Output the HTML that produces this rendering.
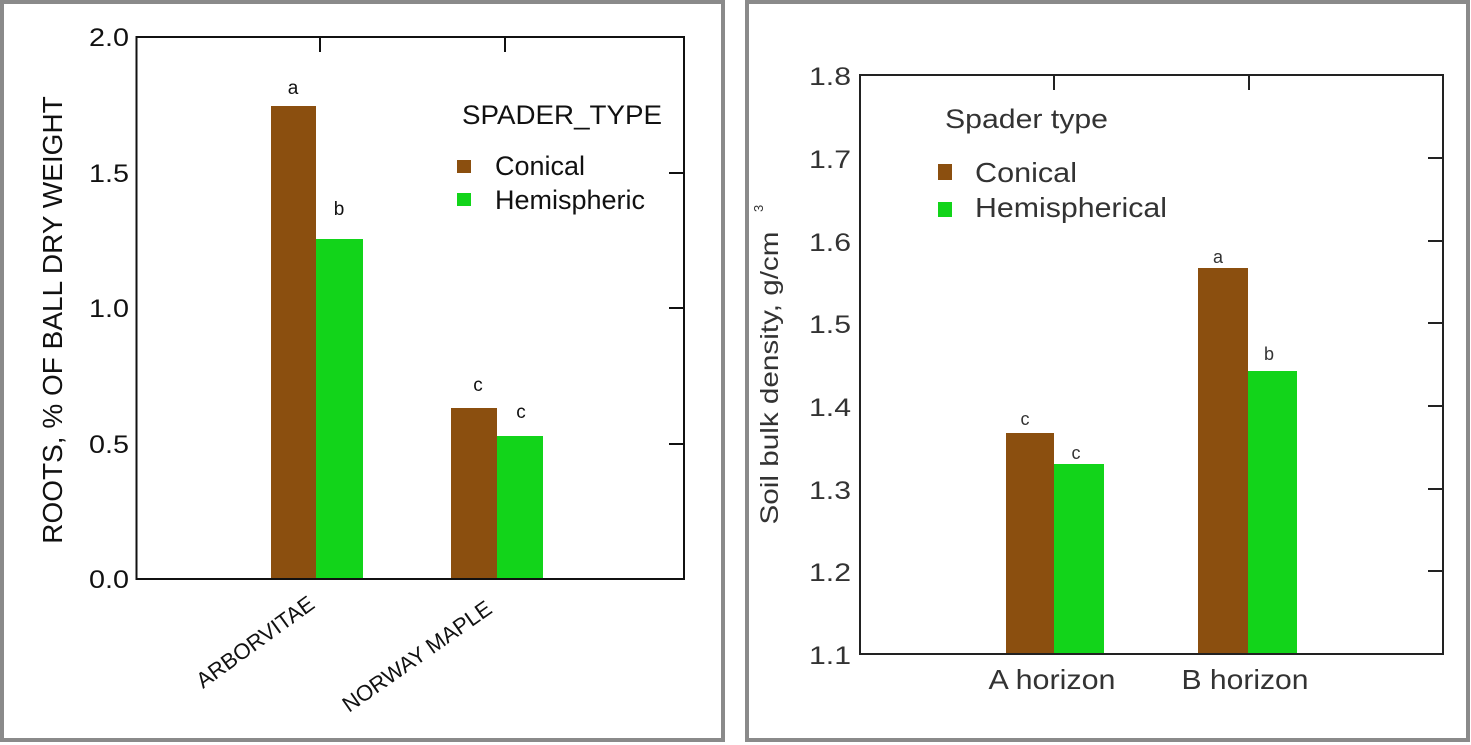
<!DOCTYPE html>
<html><head><meta charset="utf-8"><style>
html,body{margin:0;padding:0;background:#fff;}
svg{display:block;font-family:"Liberation Sans",Arial,sans-serif;}
</style></head><body>
<svg width="1471" height="745" viewBox="0 0 1471 745" xmlns="http://www.w3.org/2000/svg">
<rect x="0" y="0" width="1471" height="745" fill="#fff"/>
<rect x="2" y="2" width="721" height="738" fill="none" stroke="#8a8a8a" stroke-width="4"/>
<rect x="747" y="2" width="721" height="738" fill="none" stroke="#8a8a8a" stroke-width="4"/>

<!-- LEFT CHART -->
<g>
<rect x="271" y="106" width="45" height="473" fill="#8B4F0F"/>
<rect x="316" y="239" width="47" height="340" fill="#12D41A"/>
<rect x="451" y="408" width="46" height="171" fill="#8B4F0F"/>
<rect x="497" y="436" width="46" height="143" fill="#12D41A"/>
<rect x="136.5" y="37" width="547.5" height="542" fill="none" stroke="#111" stroke-width="2"/>
<g stroke="#111" stroke-width="2">
<line x1="320" y1="37" x2="320" y2="52"/><line x1="505" y1="37" x2="505" y2="52"/>
<line x1="684" y1="173" x2="669" y2="173"/><line x1="684" y1="308" x2="669" y2="308"/><line x1="684" y1="444" x2="669" y2="444"/>
</g>
<g font-size="25" fill="#111" text-anchor="end">
<text x="129" y="46" textLength="40" lengthAdjust="spacingAndGlyphs">2.0</text><text x="129" y="182" textLength="40" lengthAdjust="spacingAndGlyphs">1.5</text><text x="129" y="317" textLength="40" lengthAdjust="spacingAndGlyphs">1.0</text><text x="129" y="453" textLength="40" lengthAdjust="spacingAndGlyphs">0.5</text><text x="129" y="588" textLength="40" lengthAdjust="spacingAndGlyphs">0.0</text>
</g>
<text transform="translate(62,320) rotate(-90)" font-size="28" fill="#111" text-anchor="middle">ROOTS, % OF BALL DRY WEIGHT</text>
<g font-size="19" fill="#111" text-anchor="middle">
<text x="293" y="94">a</text><text x="339" y="215">b</text><text x="478" y="391">c</text><text x="521" y="418">c</text>
</g>
<text x="462" y="124" font-size="27" fill="#111" textLength="200" lengthAdjust="spacingAndGlyphs">SPADER_TYPE</text>
<rect x="457" y="160" width="14" height="13" fill="#8B4F0F"/>
<rect x="457" y="193" width="14" height="13" fill="#12D41A"/>
<text x="495" y="175" font-size="27" fill="#111">Conical</text>
<text x="495" y="209" font-size="27" fill="#111">Hemispheric</text>
<text transform="translate(203,689) rotate(-36)" font-size="22" fill="#111">ARBORVITAE</text>
<text transform="translate(349,713) rotate(-35)" font-size="22" fill="#111">NORWAY MAPLE</text>
</g>

<!-- RIGHT CHART -->
<g>
<rect x="1006" y="433" width="48" height="221" fill="#8B4F0F"/>
<rect x="1054" y="464" width="50" height="190" fill="#12D41A"/>
<rect x="1198" y="268" width="50" height="386" fill="#8B4F0F"/>
<rect x="1248" y="371" width="49" height="283" fill="#12D41A"/>
<rect x="860" y="75" width="583" height="579" fill="none" stroke="#222" stroke-width="2"/>
<g stroke="#222" stroke-width="2">
<line x1="1054" y1="75" x2="1054" y2="90"/><line x1="1249" y1="75" x2="1249" y2="90"/>
<line x1="1443" y1="158" x2="1428" y2="158"/><line x1="1443" y1="241" x2="1428" y2="241"/>
<line x1="1443" y1="323" x2="1428" y2="323"/><line x1="1443" y1="406" x2="1428" y2="406"/>
<line x1="1443" y1="489" x2="1428" y2="489"/><line x1="1443" y1="571" x2="1428" y2="571"/>
</g>
<g font-size="25" fill="#333" text-anchor="end">
<text x="851" y="85" textLength="42" lengthAdjust="spacingAndGlyphs">1.8</text><text x="851" y="168" textLength="42" lengthAdjust="spacingAndGlyphs">1.7</text><text x="851" y="251" textLength="42" lengthAdjust="spacingAndGlyphs">1.6</text><text x="851" y="333" textLength="42" lengthAdjust="spacingAndGlyphs">1.5</text>
<text x="851" y="416" textLength="42" lengthAdjust="spacingAndGlyphs">1.4</text><text x="851" y="499" textLength="42" lengthAdjust="spacingAndGlyphs">1.3</text><text x="851" y="581" textLength="42" lengthAdjust="spacingAndGlyphs">1.2</text><text x="851" y="664" textLength="42" lengthAdjust="spacingAndGlyphs">1.1</text>
</g>
<text transform="translate(778,378) rotate(-90)" font-size="25" fill="#333" text-anchor="middle" textLength="293" lengthAdjust="spacingAndGlyphs">Soil bulk density, g/cm</text>
<text x="763" y="212" font-size="13" fill="#333" transform="rotate(-90,763,212)">3</text>
<g font-size="18" fill="#333" text-anchor="middle">
<text x="1025" y="425">c</text><text x="1076" y="459">c</text><text x="1218" y="263">a</text><text x="1269" y="360">b</text>
</g>
<text x="945" y="128" font-size="27" fill="#333" textLength="163" lengthAdjust="spacingAndGlyphs">Spader type</text>
<rect x="938" y="164" width="14" height="16" fill="#8B4F0F"/>
<rect x="938" y="202" width="14" height="15" fill="#12D41A"/>
<text x="975" y="182" font-size="28" fill="#333" textLength="102" lengthAdjust="spacingAndGlyphs">Conical</text>
<text x="975" y="217" font-size="28" fill="#333" textLength="192" lengthAdjust="spacingAndGlyphs">Hemispherical</text>
<text x="1052" y="689" font-size="28" fill="#333" text-anchor="middle" textLength="127" lengthAdjust="spacingAndGlyphs">A horizon</text>
<text x="1245" y="689" font-size="28" fill="#333" text-anchor="middle" textLength="127" lengthAdjust="spacingAndGlyphs">B horizon</text>
</g>
</svg>
</body></html>
